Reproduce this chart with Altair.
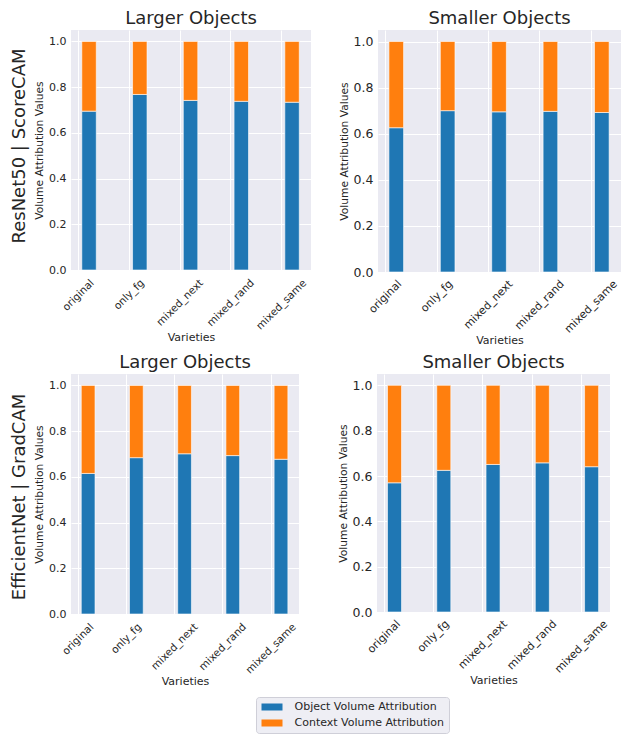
import altair as alt
import pandas as pd

# ---------------- data ----------------
VARIETIES = ["original", "only_fg", "mixed_next", "mixed_rand", "mixed_same"]
SERIES = ["Object Volume Attribution", "Context Volume Attribution"]
COLORS = ["#1f77b4", "#ff7f0e"]
ROW_LABELS = ["ResNet50 | ScoreCAM", "EfficientNet | GradCAM"]
COL_TITLES = ["Larger Objects", "Smaller Objects"]
Y_TICKS = [0.0, 0.2, 0.4, 0.6, 0.8, 1.0]

R50_LARGER_OBJ = [0.695, 0.768, 0.742, 0.738, 0.734]
R50_LARGER_CTX = [0.305, 0.232, 0.258, 0.262, 0.266]
R50_SMALLER_OBJ = [0.626, 0.700, 0.695, 0.697, 0.692]
R50_SMALLER_CTX = [0.374, 0.300, 0.305, 0.303, 0.308]
EFF_LARGER_OBJ = [0.615, 0.684, 0.701, 0.693, 0.677]
EFF_LARGER_CTX = [0.385, 0.316, 0.299, 0.307, 0.323]
EFF_SMALLER_OBJ = [0.570, 0.625, 0.651, 0.658, 0.641]
EFF_SMALLER_CTX = [0.430, 0.375, 0.349, 0.342, 0.359]

# ---------------- style ----------------
FONT = "DejaVu Sans"
TEXT = "#262626"
# approximate text widths (em) of tick labels, used to centre rotated labels on ticks
LABEL_EM = {"original": 3.739, "only_fg": 3.603, "mixed_next": 5.827,
            "mixed_rand": 5.887, "mixed_same": 6.317}
PAD = 0.3645
ALIGN = 0.19

legend = alt.Legend(
    title=None, orient="none", legendX=185, legendY=667, direction="vertical",
    symbolType="M-2.1,-0.7H2.1V0.7H-2.1Z", symbolSize=100, symbolOffset=6,
    symbolStrokeWidth=0, labelFont=FONT, labelFontSize=11, labelColor=TEXT,
    labelOffset=17, labelLimit=300, padding=4.5, rowPadding=4,
    fillColor="#EEEEF4", strokeColor="#CFCFD8", cornerRadius=3,
)


def panel(obj, ctx, title, width, height, ylab_fs, xlab_fs, xlab_pad,
          row_label=None, label_y=None):
    rows = []
    for v, o, c in zip(VARIETIES, obj, ctx):
        rows.append({"variety": v, "series": SERIES[0], "order": 0, "value": o})
        rows.append({"variety": v, "series": SERIES[1], "order": 1, "value": c})
    df = pd.DataFrame(rows)
    step = width / (4 + 2 * PAD)
    cond = [{"test": f"datum.value === '{v}'",
             "value": round(LABEL_EM[v] * xlab_fs * 0.3536, 1)} for v in VARIETIES]
    x_axis = alt.Axis(
        title="Varieties", labelAngle=-45, labelAlign="right", labelBaseline="middle",
        labelFontSize=xlab_fs, labelPadding=xlab_pad,
        labelOffset={"condition": cond, "value": 0},
        grid=True, titleFontSize=11, titlePadding=0,
    )
    y_axis = alt.Axis(
        title="Volume Attribution Values", values=Y_TICKS, format=".1f",
        labelFontSize=ylab_fs, labelPadding=5, titleFontSize=10.7, titlePadding=4,
        grid=True,
    )
    bars = alt.Chart(df).mark_bar(
        width=step * 0.285, xOffset=step * 0.217, stroke="white", strokeWidth=0.6
    ).encode(
        x=alt.X("variety:N", sort=VARIETIES,
                scale=alt.Scale(type="point", padding=PAD, align=ALIGN), axis=x_axis),
        y=alt.Y("value:Q", stack="zero",
                scale=alt.Scale(domain=[0, 1.05], nice=False, zero=True), axis=y_axis),
        color=alt.Color("series:N", scale=alt.Scale(domain=SERIES, range=COLORS),
                        legend=legend),
        order=alt.Order("order:Q"),
    )
    layers = [bars]
    if row_label is not None:
        lbl = alt.Chart(pd.DataFrame({"label": [row_label]})).mark_text(
            angle=270, fontSize=18, font=FONT, color=TEXT
        ).encode(text="label:N", x=alt.value(-51), y=alt.value(label_y))
        layers.append(lbl)
    return alt.layer(*layers).properties(
        width=width, height=height,
        title=alt.TitleParams(title, fontSize=18, font=FONT, fontWeight="normal",
                              color=TEXT, offset=2, anchor="middle"),
    )


tl = panel(R50_LARGER_OBJ, R50_LARGER_CTX, COL_TITLES[0], 240, 240, 11, 10.5, 11,
           ROW_LABELS[0], 116)
tr = panel(R50_SMALLER_OBJ, R50_SMALLER_CTX, COL_TITLES[1], 243, 242, 12.5, 11, 10)
bl = panel(EFF_LARGER_OBJ, EFF_LARGER_CTX, COL_TITLES[0], 228, 240, 11, 10.5, 11,
           ROW_LABELS[1], 123)
br = panel(EFF_SMALLER_OBJ, EFF_SMALLER_CTX, COL_TITLES[1], 233, 238, 12.5, 11, 10)

row1 = alt.hconcat(tl, tr, spacing=27)
row2 = alt.hconcat(bl, br, spacing=38)

chart = alt.vconcat(row1, row2, spacing=8).resolve_legend(color="shared").properties(
    padding={"top": 2, "left": 2, "right": 0, "bottom": 0}
).configure_view(
    fill="#EAEAF2", strokeWidth=0
).configure_axis(
    gridColor="white", gridWidth=1, domain=False, ticks=False, tickSize=0,
    labelColor=TEXT, titleColor=TEXT, labelFont=FONT, titleFont=FONT,
    titleFontWeight="normal",
)

chart.save("out.html", embed_options={"renderer": "svg", "actions": False})
